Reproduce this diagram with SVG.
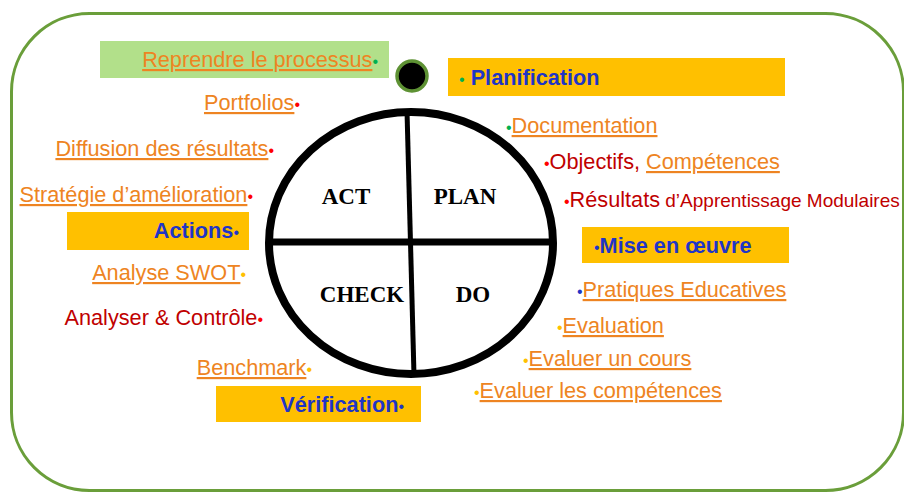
<svg xmlns="http://www.w3.org/2000/svg" width="904" height="493" viewBox="0 0 904 493">
  <style>
    text { font-family: "Liberation Sans", Arial, sans-serif; font-size: 21.7px; }
    .lk { fill: #EE8422; text-decoration: underline; }
    .dr { fill: #C00000; }
    .hd { fill: #1F35C6; font-weight: bold; }
    .bu { font-size: 16px; font-weight: normal; }
    .bg { fill: #00B050; }
    .br { fill: #FF0000; }
    .bb { fill: #1F35C6; }
    .by { fill: #FFC000; }
    .box { fill: #FFC000; }
    .pdca { font-family: "Liberation Serif", "Times New Roman", serif; font-weight: bold; font-size: 23px; fill: #000; text-anchor: middle; }
  </style>

  <!-- frame -->
  <rect id="frame" x="11.5" y="13.5" width="892" height="477" rx="78" ry="78" fill="#fff" stroke="#6A9E3A" stroke-width="3"/>

  <!-- PDCA wheel -->
  <g id="wheel">
    <ellipse cx="411" cy="243" rx="142" ry="131" fill="#fff" stroke="#000" stroke-width="8"/>
    <line x1="271" y1="242" x2="553" y2="242" stroke="#000" stroke-width="7"/>
    <line x1="407" y1="111" x2="414" y2="375" stroke="#000" stroke-width="5"/>
    <text class="pdca" x="346" y="204">ACT</text>
    <text class="pdca" x="465" y="204">PLAN</text>
    <text class="pdca" x="362" y="302">CHECK</text>
    <text class="pdca" x="473" y="302">DO</text>
  </g>

  <!-- start marker -->
  <g id="start">
    <circle cx="412" cy="76" r="15" fill="#000" stroke="#5E9234" stroke-width="3.5"/>
  </g>

  <!-- ACT side -->
  <g id="reprendre">
    <rect x="100" y="41" width="289" height="37" fill="#B2E08A"/>
    <text x="378" y="67" text-anchor="end"><tspan class="lk">Reprendre le processus</tspan><tspan class="bu bg">•</tspan></text>
  </g>
  <g id="portfolios">
    <text x="300" y="110" text-anchor="end"><tspan class="lk">Portfolios</tspan><tspan class="bu br">•</tspan></text>
  </g>
  <g id="diffusion">
    <text x="274" y="156" text-anchor="end"><tspan class="lk">Diffusion des résultats</tspan><tspan class="bu br">•</tspan></text>
  </g>
  <g id="strategie">
    <text x="253" y="202" text-anchor="end"><tspan class="lk">Stratégie d’amélioration</tspan><tspan class="bu br">•</tspan></text>
  </g>
  <g id="actions">
    <rect class="box" x="67" y="212" width="182" height="38"/>
    <text x="239" y="238" text-anchor="end" class="hd">Actions<tspan class="bu bb">•</tspan></text>
  </g>

  <!-- CHECK side -->
  <g id="swot">
    <text x="246" y="280" text-anchor="end"><tspan class="lk">Analyse SWOT</tspan><tspan class="bu by">•</tspan></text>
  </g>
  <g id="analyser">
    <text x="263" y="325" text-anchor="end"><tspan class="dr">Analyser &amp; Contrôle</tspan><tspan class="bu br">•</tspan></text>
  </g>
  <g id="benchmark">
    <text x="312" y="375" text-anchor="end"><tspan class="lk">Benchmark</tspan><tspan class="bu by">•</tspan></text>
  </g>
  <g id="verification">
    <rect class="box" x="216" y="386" width="205" height="36"/>
    <text x="404" y="412" text-anchor="end" class="hd">Vérification<tspan class="bu bb">•</tspan></text>
  </g>

  <!-- PLAN side -->
  <g id="planification">
    <rect class="box" x="448" y="58" width="337" height="38"/>
    <text x="459" y="85" class="hd"><tspan class="bu bg">•</tspan> Planification</text>
  </g>
  <g id="documentation">
    <text x="506" y="133"><tspan class="bu bg">•</tspan><tspan class="lk">Documentation</tspan></text>
  </g>
  <g id="objectifs">
    <text x="544" y="169"><tspan class="bu br">•</tspan><tspan class="dr">Objectifs, </tspan><tspan class="lk">Compétences</tspan></text>
  </g>
  <g id="resultats">
    <text x="564" y="207"><tspan class="bu br">•</tspan><tspan class="dr">Résultats</tspan><tspan class="dr" font-size="19"> d’Apprentissage Modulaires</tspan></text>
  </g>

  <!-- DO side -->
  <g id="mise">
    <rect class="box" x="582" y="227" width="207" height="36"/>
    <text x="594" y="253" class="hd"><tspan class="bu bb">•</tspan>Mise en œuvre</text>
  </g>
  <g id="pratiques">
    <text x="577" y="297"><tspan class="bu bb">•</tspan><tspan class="lk">Pratiques Educatives</tspan></text>
  </g>
  <g id="evaluation">
    <text x="557" y="333"><tspan class="bu by">•</tspan><tspan class="lk">Evaluation</tspan></text>
  </g>
  <g id="cours">
    <text x="523" y="366"><tspan class="bu by">•</tspan><tspan class="lk">Evaluer un cours</tspan></text>
  </g>
  <g id="competences">
    <text x="474" y="398"><tspan class="bu by">•</tspan><tspan class="lk">Evaluer les compétences</tspan></text>
  </g>

  <!-- no connectors in this figure -->
  <g id="connectors"/>
</svg>
